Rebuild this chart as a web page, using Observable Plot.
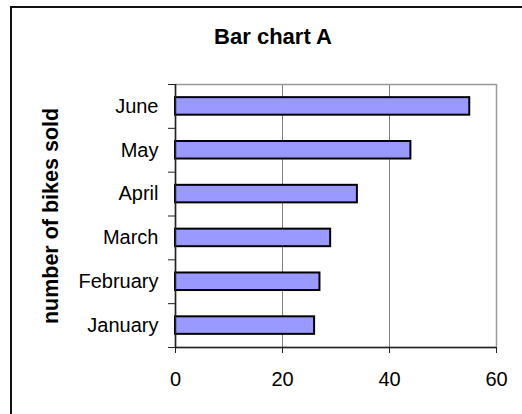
<!DOCTYPE html>
<html><head><meta charset="utf-8">
<script src="https://cdn.jsdelivr.net/npm/d3@7"></script>
<script src="https://cdn.jsdelivr.net/npm/@observablehq/plot@0.6"></script>
<style>
body{margin:0;background:#fff;}
#wrap{position:relative;width:522px;height:414px;overflow:hidden;font-family:"Liberation Sans",Arial,sans-serif;}
#border{position:absolute;left:10px;top:6px;width:700px;height:700px;border-left:2px solid #111;border-top:2px solid #111;}
#chart{position:absolute;left:0;top:0;}
</style></head><body>
<div id="wrap"><div id="border"></div><div id="chart"></div></div>
<script>
const months = ["January", "February", "March", "April", "May", "June"];
const bikesSold = [26, 27, 29, 34, 44, 55];
const xTicks = [0, 20, 40, 60];
const gridLines = [20, 40];
const title = "Bar chart A";
const yLabel = "number of bikes sold";

const data = months.map((m, i) => ({month: m, index: i, value: bikesSold[i]}));
const boundaries = d3.range(months.length + 1).map(i => i - 0.5);
const centers = d3.range(months.length);
const font = '"Liberation Sans", Arial, sans-serif';

const chart = Plot.plot({
  width: 522, height: 414,
  marginLeft: 175, marginRight: 26, marginTop: 84, marginBottom: 67,
  style: {fontFamily: font, background: "transparent", overflow: "visible", color: "#000"},
  x: {domain: [0, 60]},
  y: {domain: [-0.5, months.length - 0.5]},
  marks: [
    Plot.ruleX(gridLines, {stroke: "#808080", strokeWidth: 1}),
    Plot.frame({stroke: "#999", strokeWidth: 1.5}),
    Plot.rect(data, {x1: 0, x2: "value", y1: d => d.index - 0.2, y2: d => d.index + 0.2,
      fill: "#9999ff", stroke: "#000", strokeWidth: 2}),
    Plot.ruleX([0], {stroke: "#222", strokeWidth: 1.5}),
    Plot.ruleY([-0.5], {stroke: "#222", strokeWidth: 1.5}),
    Plot.axisY({ticks: boundaries, tickSize: 7, tickFormat: () => "", stroke: "#222", label: null}),
    Plot.axisY({ticks: centers, tickSize: 0, tickPadding: 17, tickFormat: i => months[i],
      fontSize: 20, fill: "#000", label: null}),
    Plot.axisX({ticks: xTicks, tickSize: 6, tickPadding: 18, fontSize: 20, fill: "#000",
      stroke: "#222", label: null}),
    Plot.text([title], {frameAnchor: "top", lineAnchor: "middle", textAnchor: "middle", dx: -63, dy: -48,
      fontSize: 22, fontWeight: "bold", fill: "#000"}),
    Plot.text([yLabel], {frameAnchor: "left", lineAnchor: "middle", textAnchor: "middle", dx: -124, rotate: -90,
      fontSize: 21.5, fontWeight: "bold", fill: "#000"})
  ]
});
document.getElementById("chart").appendChild(chart);
</script>
</body></html>
